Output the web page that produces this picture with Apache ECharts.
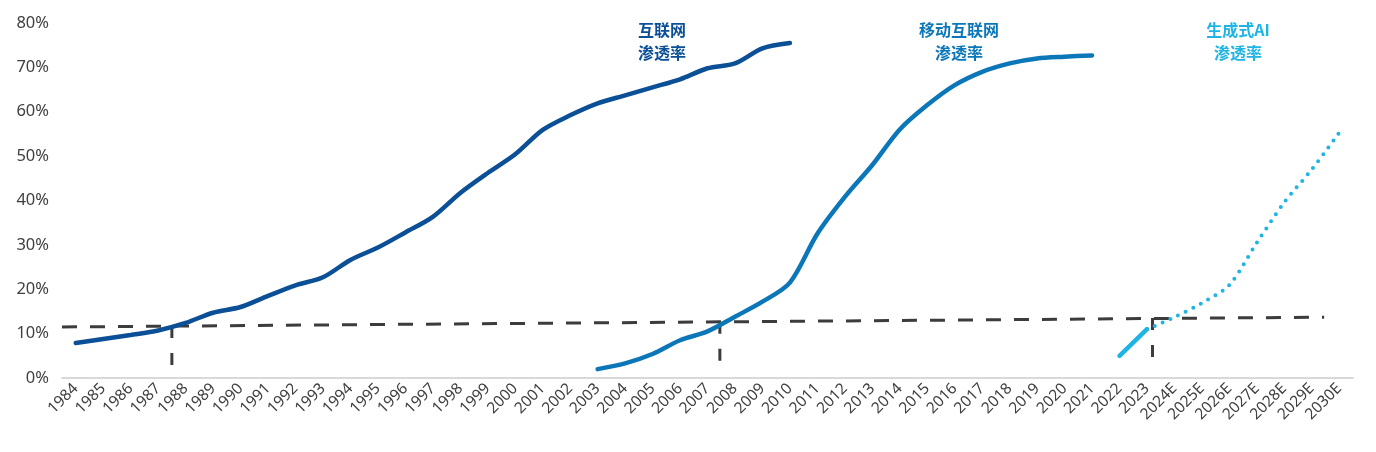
<!DOCTYPE html>
<html>
<head>
<meta charset="utf-8">
<script src="https://cdn.jsdelivr.net/npm/echarts@6/dist/echarts.min.js"></script>
<style>
html,body{margin:0;padding:0;background:#fff;}
#chart{width:1376px;height:452px;}
</style>
</head>
<body>
<div id="chart"></div>
<script>
// ---- data ----
const years = ['1984','1985','1986','1987','1988','1989','1990','1991','1992','1993','1994','1995','1996','1997','1998','1999','2000','2001','2002','2003','2004','2005','2006','2007','2008','2009','2010','2011','2012','2013','2014','2015','2016','2017','2018','2019','2020','2021','2022','2023','2024E','2025E','2026E','2027E','2028E','2029E','2030E'];

const internet = [7.9,8.8,9.7,10.7,12.4,14.7,16.0,18.5,20.9,22.7,26.6,29.4,32.8,36.3,41.7,46.2,50.4,55.9,59.2,61.9,63.7,65.5,67.3,69.8,70.9,74.3,75.5];
const mobile = [2.0,3.3,5.4,8.5,10.5,13.8,17.2,21.5,32.5,40.8,48.0,56.0,61.5,66.0,69.0,70.9,72.0,72.4,72.7];
const aiActual = [5.0,11.0];
const aiForecast = [11.0,13.7,16.9,21.0,30.5,39.6,47.0,55.3];

const thresholdLine = [[-0.5,11.5],[45.45,13.7]];
const dropLines = [
  [[3.5,11.7],[3.5,2.2]],
  [[23.45,12.7],[23.45,2.2]],
  [[39.2,13.5],[39.2,2.9]]
];
const yTicks = {min:0, max:80, interval:10};

const labels = [
  {text:'互联网\n渗透率', color:'#0b4f96'},
  {text:'移动互联网\n渗透率', color:'#0b77b8'},
  {text:'生成式AI\n渗透率', color:'#20b4e4'}
];

// ---- build ----
const pad = (arr, start) => years.map((_, i) => (i >= start && i - start < arr.length) ? arr[i - start] : null);

const chart = echarts.init(document.getElementById('chart'));
const font = '"Noto Sans", "Noto Sans CJK SC", sans-serif';

const series = [
  {type:'line', name:'互联网', data: pad(internet,0), smooth:0.3, showSymbol:false,
   lineStyle:{color:'#0b4f96', width:4.5, cap:'round'}, z:3},
  {type:'line', name:'移动互联网', data: pad(mobile,19), smooth:0.3, showSymbol:false,
   lineStyle:{color:'#0b77b8', width:4.5, cap:'round'}, z:3},
  {type:'line', name:'生成式AI', data: pad(aiActual,38), smooth:0.3, showSymbol:false,
   lineStyle:{color:'#20b4e4', width:4.5, cap:'round'}, z:3},
  {type:'line', name:'生成式AI预测', data: pad(aiForecast,39), smooth:0.3, showSymbol:false,
   lineStyle:{color:'#20b4e4', width:4, type:[0,8.5], cap:'round'}, z:3},
  {type:'line', xAxisIndex:1, data: thresholdLine, showSymbol:false,
   lineStyle:{color:'#3c3c3c', width:3, type:[15,13]}, z:2}
];
dropLines.forEach(d => series.push({type:'line', xAxisIndex:1, data:d, showSymbol:false,
   lineStyle:{color:'#3c3c3c', width:3, type:[12,15]}, z:2}));

const option = {
  animation:false,
  grid:{left:62, right:23, top:23, bottom:74},
  xAxis:[
    {type:'category', data:years, boundaryGap:true,
     axisLine:{lineStyle:{color:'#d9d9d9', width:2}},
     axisTick:{show:false},
     axisLabel:{rotate:45, interval:0, color:'#404040', fontSize:15.5, fontFamily:font, margin:8}},
    {type:'value', min:-0.5, max:years.length-0.5, show:false}
  ],
  yAxis:{type:'value', min:yTicks.min, max:yTicks.max, interval:yTicks.interval,
    axisLine:{show:false}, axisTick:{show:false}, splitLine:{show:false},
    axisLabel:{formatter:'{value}%', color:'#404040', fontSize:16.5, fontFamily:font, margin:13}},
  graphic:[
    {type:'text', x:662, y:18, style:{text:labels[0].text, fill:labels[0].color, font:'bold 16px "Noto Sans CJK SC"', textAlign:'center', lineHeight:23}},
    {type:'text', x:959, y:18, style:{text:labels[1].text, fill:labels[1].color, font:'bold 16px "Noto Sans CJK SC"', textAlign:'center', lineHeight:23}},
    {type:'text', x:1238, y:18, style:{text:labels[2].text, fill:labels[2].color, font:'bold 16px "Noto Sans CJK SC"', textAlign:'center', lineHeight:23}}
  ],
  series: series
};
chart.setOption(option);
</script>
</body>
</html>
